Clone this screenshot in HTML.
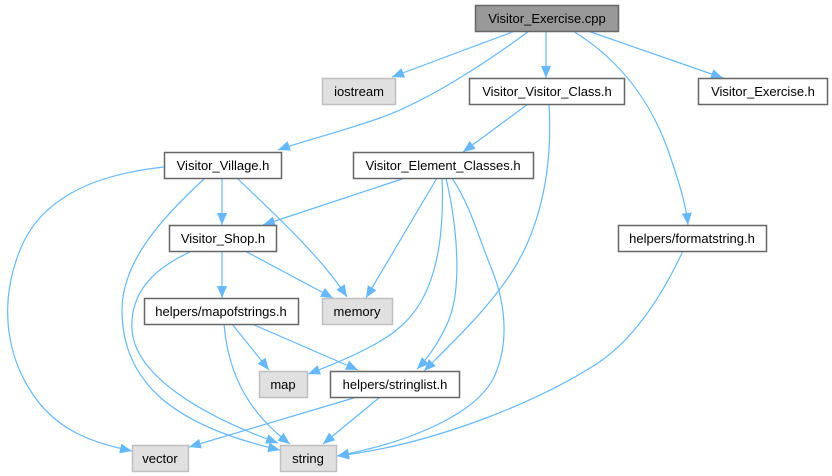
<!DOCTYPE html>
<html><head><meta charset="utf-8"><style>
html,body{margin:0;padding:0;background:#fff;}
svg{display:block;}
text{font-family:"Liberation Sans",Arial,sans-serif;font-size:13px;fill:#000;}
</style></head><body>
<svg width="832" height="476" viewBox="0 0 832 476" xmlns="http://www.w3.org/2000/svg">
<defs>
<marker id="a" markerUnits="userSpaceOnUse" markerWidth="13" markerHeight="10" refX="12" refY="5" orient="auto">
<path d="M0,0 L12,5 L0,10 z" fill="#63b8ff"/>
</marker>
</defs>
<g fill="none" stroke="#63b8ff" stroke-width="1.2" marker-end="url(#a)">
<path d="M515,31 L392,77"/>
<path d="M529,31 C490,60 430,100 380,118 C340,132 300,142 278,150"/>
<path d="M546,31 L546,78"/>
<path d="M588,31 L723,78"/>
<path d="M573,31 C620,60 650,100 668,150 C680,185 686,205 688,225"/>
<path d="M528,104 L463,152"/>
<path d="M549,104 C553,170 540,230 510,275 C485,312 450,345 424,371"/>
<path d="M405,178 L263,225"/>
<path d="M437,178 L366,298"/>
<path d="M442,178 C445,250 432,300 400,327 C380,345 340,362 308,374"/>
<path d="M446,178 C458,230 462,290 448,322 C440,340 430,356 417,369"/>
<path d="M452,178 C470,205 478,235 490,265 C505,300 510,340 495,375 C480,410 420,440 337,456"/>
<path d="M683,251 C660,300 630,345 590,368 C530,405 430,445 337,456"/>
<path d="M164,167 C90,175 40,200 20,250 C0,300 5,350 30,390 C55,430 90,442 132,451"/>
<path d="M205,178 C165,215 122,260 122,310 C122,380 170,425 280,450"/>
<path d="M192,251 C150,270 130,295 132,330 C135,375 200,415 278,443"/>
<path d="M222,178 L222,225"/>
<path d="M237,178 C270,210 320,255 347,297"/>
<path d="M222,251 L222,298"/>
<path d="M245,251 L333,298"/>
<path d="M232,324 L269,370"/>
<path d="M252,324 L358,370"/>
<path d="M224,324 C228,370 245,410 290,444"/>
<path d="M357,397 L189,447"/>
<path d="M380,397 L323,444"/>
</g>
<g stroke-width="1.5">
<rect x="475.5" y="5.5" width="143" height="26" fill="#999999" stroke="#666666"/>
<rect x="322.5" y="78.5" width="73" height="26" fill="#e0e0e0" stroke="#bfbfbf"/>
<rect x="469.5" y="78.5" width="155" height="26" fill="#fff" stroke="#666666"/>
<rect x="698.5" y="78.5" width="129" height="26" fill="#fff" stroke="#666666"/>
<rect x="164.5" y="152.5" width="117" height="26" fill="#fff" stroke="#666666"/>
<rect x="353.5" y="152.5" width="180" height="26" fill="#fff" stroke="#666666"/>
<rect x="169.5" y="225.5" width="107" height="26" fill="#fff" stroke="#666666"/>
<rect x="618.5" y="225.5" width="148" height="26" fill="#fff" stroke="#666666"/>
<rect x="144.5" y="298.5" width="154" height="26" fill="#fff" stroke="#666666"/>
<rect x="322.5" y="298.5" width="70" height="26" fill="#e0e0e0" stroke="#bfbfbf"/>
<rect x="259.5" y="371.5" width="48" height="26" fill="#e0e0e0" stroke="#bfbfbf"/>
<rect x="330.5" y="371.5" width="129" height="26" fill="#fff" stroke="#666666"/>
<rect x="132.5" y="445.5" width="56" height="26" fill="#e0e0e0" stroke="#bfbfbf"/>
<rect x="280.5" y="445.5" width="56" height="26" fill="#e0e0e0" stroke="#bfbfbf"/>
</g>
<g text-anchor="middle">
<text x="547" y="23">Visitor_Exercise.cpp</text>
<text x="359" y="96">iostream</text>
<text x="547" y="96">Visitor_Visitor_Class.h</text>
<text x="763" y="96">Visitor_Exercise.h</text>
<text x="223" y="170">Visitor_Village.h</text>
<text x="443" y="170">Visitor_Element_Classes.h</text>
<text x="223" y="243">Visitor_Shop.h</text>
<text x="692" y="243">helpers/formatstring.h</text>
<text x="221" y="316">helpers/mapofstrings.h</text>
<text x="357" y="316">memory</text>
<text x="283" y="389">map</text>
<text x="395" y="389">helpers/stringlist.h</text>
<text x="160" y="463">vector</text>
<text x="308" y="463">string</text>
</g>
</svg>
</body></html>
